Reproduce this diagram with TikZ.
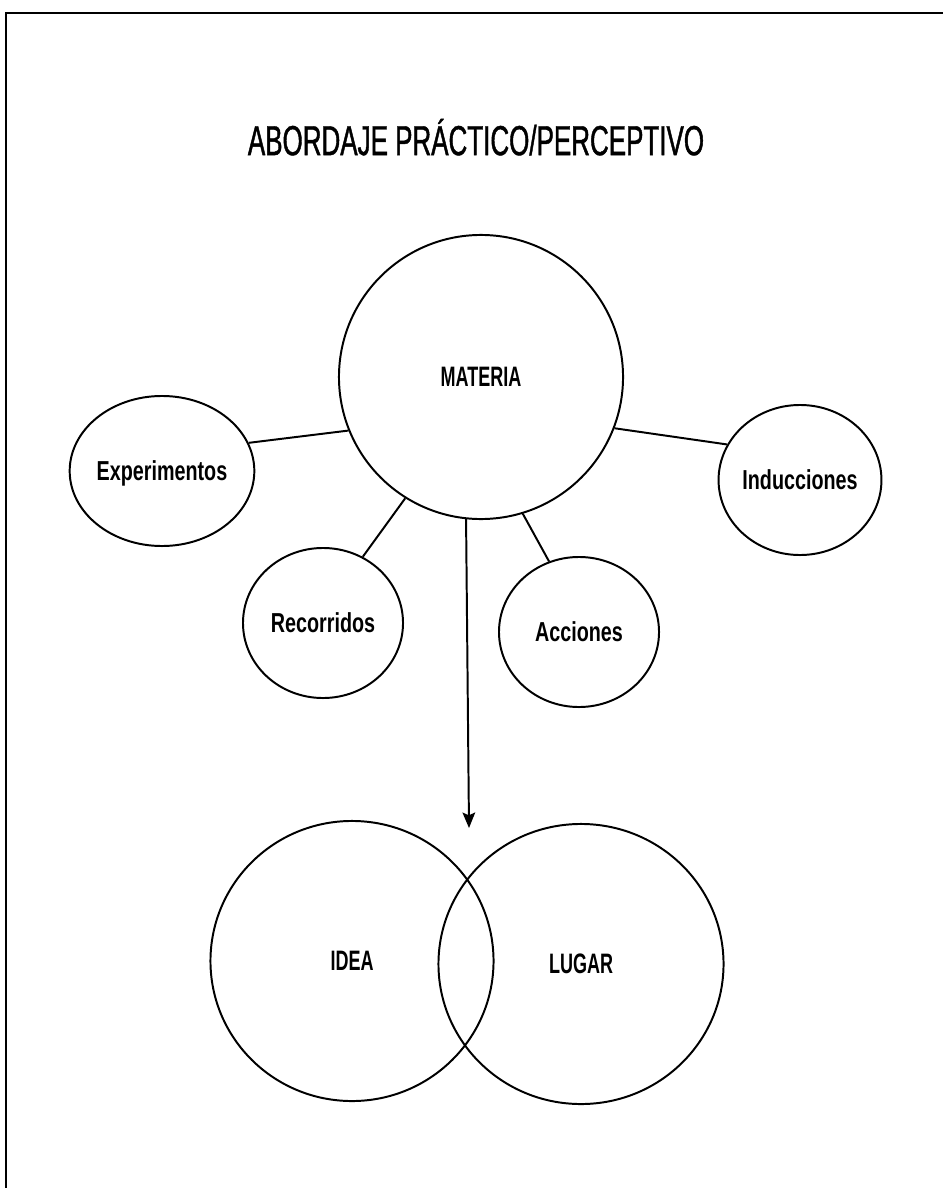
\documentclass[tikz,border=0pt]{standalone}
\usepackage{fontspec}
\setmainfont{Liberation Sans}
\newfontfamily\titlefont[FakeStretch=0.62,FakeBold=1]{Liberation Sans}
\newfontfamily\capfont[FakeStretch=0.64]{Liberation Sans}
\newfontfamily\wordfont[FakeStretch=0.72]{Liberation Sans}
\usetikzlibrary{arrows.meta,shapes.geometric}

\begin{document}
\begin{tikzpicture}[x=0.025cm,y=-0.025cm,
    bubble/.style={draw, ellipse, line width=1.4pt, inner sep=0pt, text height=14pt, text depth=0pt},
    big/.style={bubble, minimum width=7.1cm, minimum height=7cm, font=\capfont\bfseries\fontsize{20}{24}\selectfont},
    small/.style={bubble, minimum width=4cm, minimum height=3.75cm, font=\wordfont\bfseries\fontsize{19.5}{23}\selectfont},
    link/.style={line width=1.4pt}]
          \useasboundingbox (0,0) rectangle (943,1188);

          % Frame (cut on the right and at the bottom)
          \draw[line width=1.7pt] (6,1188) -- (6,13) -- (943,13);

          \node[text height=21.5pt, text depth=0pt] (title) at (476,140)
              {\titlefont\fontsize{29.8}{34}\selectfont ABORDAJE PRÁCTICO/PERCEPTIVO};

          % Center and satellites
          \node[big, minimum height=7.1cm] (mat) at (481,377) {MATERIA};
          \node[small] (exp) at (162,471) {Experimentos};
          \node[small] (rec) at (323,623) {Recorridos};
          \node[small] (acc) at (579,632) {Acciones};
          \node[small, minimum width=3.9cm] (ind) at (800,480) {Inducciones};

          \foreach \n/\a/\b in {exp/18/202, rec/59/238, acc/113/287, ind/154/339} {
              \draw[link] (\n.\a) -- (mat.\b);
          }

          % Venn pair
          \node[big, minimum width=7.075cm] (idea) at (352,961) {IDEA};
          \node[big, minimum width=7.125cm] (lugar) at (581,964) {LUGAR};

          \coordinate (tip) at (469,828);
          \draw[link,-{Stealth[length=11pt,width=9pt,inset=2pt]}] (mat.264) -- (tip);
      \end{tikzpicture}
\end{document}
